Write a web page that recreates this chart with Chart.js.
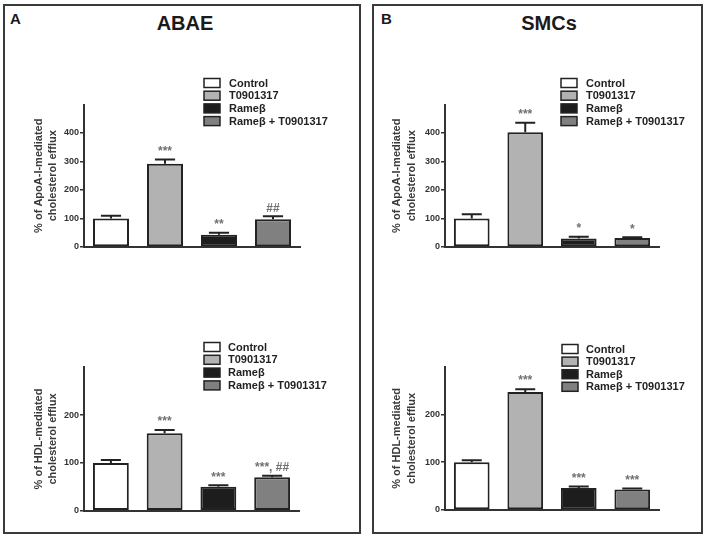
<!DOCTYPE html>
<html><head><meta charset="utf-8">
<script src="https://cdn.jsdelivr.net/npm/chart.js@4.4.0/dist/chart.umd.min.js"></script>
<style>
html,body{margin:0;padding:0;background:#fff;width:708px;height:539px;overflow:hidden;font-family:"Liberation Sans",Arial,sans-serif;}
.frame{position:absolute;border:2px solid #3a3a3a;box-sizing:border-box;}
.lbl{position:absolute;font-weight:bold;color:#1a1a1a;white-space:nowrap;line-height:1;}
canvas{position:absolute;}
</style></head><body>
<div class="frame" style="left:3px;top:4px;width:358px;height:530px"></div>
<div class="frame" style="left:372px;top:4px;width:331px;height:530px"></div>
<div class="lbl" style="left:10px;top:11px;font-size:15px">A</div>
<div class="lbl" style="left:381px;top:11px;font-size:15px">B</div>
<div class="lbl" style="left:135px;top:13px;width:100px;text-align:center;font-size:20px">ABAE</div>
<div class="lbl" style="left:499px;top:13px;width:100px;text-align:center;font-size:20px">SMCs</div>
<canvas id="c1"></canvas>
<canvas id="c2"></canvas>
<canvas id="c3"></canvas>
<canvas id="c4"></canvas>
<script>
const categories = ['Control', 'T0901317', 'Rameβ', 'Rameβ + T0901317'];
const barColors = ['#ffffff', '#b2b2b2', '#1d1d1d', '#808080'];

const abaeApoA = [100, 292, 43, 97];
const abaeApoAErr = [10, 15, 7, 11];
const abaeApoAMarks = ['', '***', '**', '##'];

const smcApoA = [100, 403, 30, 32];
const smcApoAErr = [15, 33, 6, 2];
const smcApoAMarks = ['', '***', '*', '*'];

const abaeHDL = [100, 162, 50, 70];
const abaeHDLErr = [6, 7, 3, 3];
const abaeHDLMarks = ['', '***', '***', '***, ##'];

const smcHDL = [100, 247, 46, 43];
const smcHDLErr = [4, 6, 3, 2];
const smcHDLMarks = ['', '***', '***', '***'];

const apoATicks = [0, 100, 200, 300, 400];
const apoAMax = 500;
const hdlTicks = [0, 100, 200];
const hdlMax = 300;

const apoATitle = ['% of ApoA-I-mediated', 'cholesterol efflux'];
const hdlTitle = ['% of HDL-mediated', 'cholesterol efflux'];

const FAM = '"Liberation Sans", Arial, sans-serif';

const errorBarsPlugin = {
  id: 'errorBars',
  afterDatasetsDraw(chart, args, opts) {
    const ctx = chart.ctx;
    const meta = chart.getDatasetMeta(0);
    const vals = chart.data.datasets[0].data;
    const ys = chart.scales.y;
    ctx.save();
    meta.data.forEach((el, i) => {
      const top = ys.getPixelForValue(vals[i] + opts.errs[i]);
      const half = el.width * 0.28;
      ctx.strokeStyle = '#222';
      ctx.lineWidth = 2;
      ctx.beginPath();
      ctx.moveTo(el.x, el.y);
      ctx.lineTo(el.x, top);
      ctx.moveTo(el.x - half, top);
      ctx.lineTo(el.x + half, top);
      ctx.stroke();
      if (opts.marks[i]) {
        ctx.fillStyle = '#707070';
        ctx.font = 'bold 12px ' + FAM;
        ctx.textAlign = 'center';
        ctx.textBaseline = 'bottom';
        ctx.fillText(opts.marks[i], el.x, top - 2);
      }
    });
    ctx.restore();
  }
};

const boxLegendPlugin = {
  id: 'boxLegend',
  afterDraw(chart, args, opts) {
    const ctx = chart.ctx;
    ctx.save();
    chart.data.labels.forEach((lab, i) => {
      const cy = opts.y + i * opts.step;
      ctx.fillStyle = chart.data.datasets[0].backgroundColor[i];
      ctx.fillRect(opts.x, cy - 4.5, 16, 9);
      ctx.strokeStyle = '#222';
      ctx.lineWidth = 1.5;
      ctx.strokeRect(opts.x, cy - 4.5, 16, 9);
      ctx.fillStyle = '#222';
      ctx.font = 'bold 11px ' + FAM;
      ctx.textAlign = 'left';
      ctx.textBaseline = 'middle';
      ctx.fillText(lab, opts.textX, cy + 0.5);
    });
    ctx.restore();
  }
};

function makePanel(id, rect, area, values, errs, marks, ticks, max, yTitle, titleX, leg) {
  const cv = document.getElementById(id);
  cv.width = rect.w; cv.height = rect.h;
  cv.style.left = rect.x + 'px'; cv.style.top = rect.y + 'px';
  cv.style.width = rect.w + 'px'; cv.style.height = rect.h + 'px';
  const lh = 11 * 1.35;
  new Chart(cv, {
    type: 'bar',
    data: {
      labels: categories,
      datasets: [{
        data: values,
        backgroundColor: barColors,
        borderColor: '#222',
        borderWidth: 2,
        borderSkipped: false,
        barPercentage: 0.667,
        categoryPercentage: 1
      }]
    },
    options: {
      responsive: false,
      animation: false,
      devicePixelRatio: 1,
      layout: { padding: { left: 0, top: area.t - rect.y, right: rect.x + rect.w - area.r, bottom: rect.y + rect.h - area.b } },
      plugins: {
        legend: { display: false },
        tooltip: { enabled: false },
        errorBars: { errs: errs, marks: marks },
        boxLegend: { x: leg.x - rect.x, textX: leg.tx - rect.x, y: leg.y - rect.y, step: leg.step }
      },
      scales: {
        x: {
          ticks: { display: false },
          grid: { display: false },
          border: { display: true, color: '#333', width: 2 },
          afterFit: s => { s.height = 0; }
        },
        y: {
          min: 0, max: max,
          afterBuildTicks: s => { s.ticks = ticks.map(v => ({ value: v })); },
          ticks: { font: { family: FAM, size: 9, weight: 'bold' }, color: '#333', padding: 1 },
          grid: { drawOnChartArea: false, drawTicks: true, tickLength: 4, color: '#333', lineWidth: 1.5 },
          border: { display: true, color: '#333', width: 2 },
          title: {
            display: true, text: yTitle, color: '#3a3a3a',
            font: { family: FAM, size: 11, weight: 'bold', lineHeight: 1.35 },
            padding: { top: titleX - rect.x - lh / 2, bottom: 0 }
          },
          afterFit: s => { s.width = area.l - rect.x; }
        }
      }
    },
    plugins: [errorBarsPlugin, boxLegendPlugin]
  });
}

makePanel('c1', { x: 5, y: 40, w: 355, h: 225 }, { l: 84, t: 104.5, r: 300, b: 247 },
  abaeApoA, abaeApoAErr, abaeApoAMarks, apoATicks, apoAMax, apoATitle, 38.5,
  { x: 204, tx: 229, y: 83, step: 12.7 });
makePanel('c2', { x: 375, y: 40, w: 326, h: 225 }, { l: 445, t: 104.5, r: 659, b: 247 },
  smcApoA, smcApoAErr, smcApoAMarks, apoATicks, apoAMax, apoATitle, 397,
  { x: 561, tx: 586, y: 83, step: 12.7 });
makePanel('c3', { x: 5, y: 300, w: 355, h: 230 }, { l: 84, t: 367.3, r: 299, b: 510.7 },
  abaeHDL, abaeHDLErr, abaeHDLMarks, hdlTicks, hdlMax, hdlTitle, 38.5,
  { x: 204, tx: 228, y: 347, step: 12.8 });
makePanel('c4', { x: 375, y: 300, w: 326, h: 230 }, { l: 445, t: 366.7, r: 659, b: 510 },
  smcHDL, smcHDLErr, smcHDLMarks, hdlTicks, hdlMax, hdlTitle, 397,
  { x: 562, tx: 586, y: 349, step: 12.6 });
</script>
</body></html>
